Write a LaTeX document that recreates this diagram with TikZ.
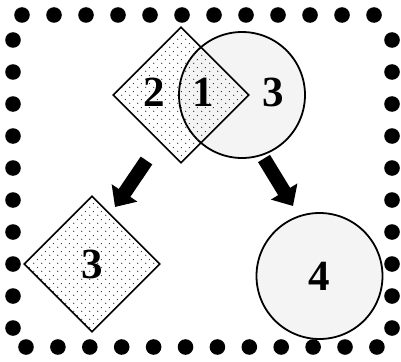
\documentclass[tikz,border=0pt]{standalone}
\usepackage{fontspec}
\setmainfont{Liberation Serif}
\usetikzlibrary{shapes.geometric,arrows.meta,patterns.meta}
\definecolor{discgray}{HTML}{F4F4F4}

\tikzdeclarepattern{
  name=sparsedots,
  type=uncolored,
  bottom left={(0pt,0pt)},
  top right={(8pt,8pt)},
  tile size={(8pt,8pt)},
  code={
    \pgfpathcircle{\pgfpoint{2pt}{2pt}}{0.65pt}
    \pgfpathcircle{\pgfpoint{6pt}{6pt}}{0.65pt}
    \pgfusepath{fill}
  }
}

\tikzset{
  dotbox/.style={diamond, draw, line width=1.6pt, pattern=sparsedots, pattern color=black!85, minimum size=136pt, inner sep=0pt},
  disc/.style={circle, draw, line width=1.8pt, fill=discgray, minimum size=126pt, inner sep=0pt},
  digit/.style={font=\fontsize{43}{48}\selectfont\bfseries, inner sep=0pt},
  fatarrow/.style={line width=14pt, -{Triangle[length=17pt,width=30pt]}}
}

\begin{document}
\begin{tikzpicture}[x=1pt,y=-1pt]
        \useasboundingbox (0,0) rectangle (401,361);
        % dotted frame
        \foreach \i in {0,...,11} {
            \fill (22+32*\i,15) circle (7.8pt);
            \fill (26+31.9*\i,347) circle (7.8pt);
        }
        \foreach \j in {0,...,9} {
            \fill (13,40+32*\j) circle (7.8pt);
            \fill (392,40+32*\j) circle (7.8pt);
        }
        % upper pair
        \node[disc] (c3) at (242,95) {};
        \node[dotbox] (d2) at (181,95) {};
        \node[digit] (t2) at (154,92) {2};
        \node[digit] (t1) at (203,92) {1};
        \node[digit] (t3) at (273,92) {3};
        % lower shapes
        \node[dotbox, digit] (d3) at (92,264) {3};
        \node[disc, digit] (c4) at (319.5,276) {4};
        % arrows
        \coordinate (l0) at (146.5,160.5);
        \coordinate (l1) at (115,207);
        \coordinate (r0) at (264,158.5);
        \coordinate (r1) at (293,206);
        \draw[fatarrow] (l0) -- (l1);
        \draw[fatarrow] (r0) -- (r1);
    \end{tikzpicture}
\end{document}
